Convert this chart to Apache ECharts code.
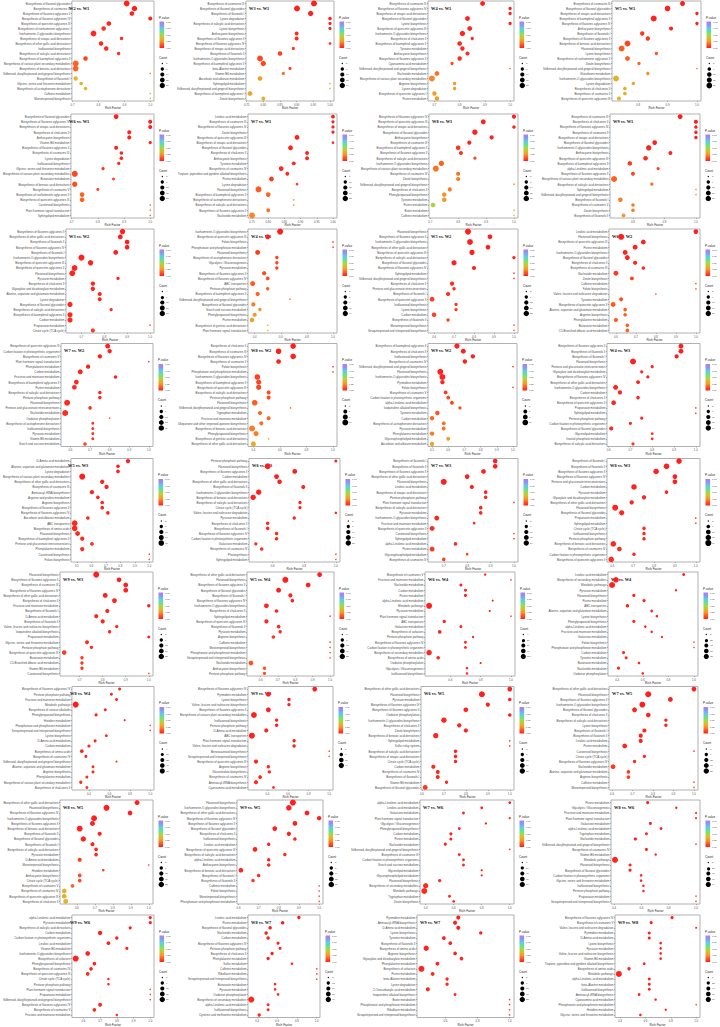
<!DOCTYPE html>
<html><head><meta charset="utf-8">
<script src="https://cdn.jsdelivr.net/npm/echarts@6/dist/echarts.min.js"></script>
<style>html,body{margin:0;padding:0;background:#fff}#c{width:720px;height:1027px}</style>
</head><body><div id="c"></div>
<script>
// ---------- DATA: [pathway, rich factor, count, p-value] ----------
const W2vsW1=[["Biosynthesis of flavonol glycosides",0.909,22,0.008],["Biosynthesis of coumarins III",0.939,19,0.006],["Biosynthesis of flavones aglycones II",0.929,13,0.01],["Biosynthesis of flavones aglycones IV",1.0,9,0.012],["Biosynthesis of quercetin aglycones III",0.84,13,0.015],["Biosynthesis of isorhamnetin aglycones I",0.82,12,0.04],["Isorhamnetin-O-glycosides biosynthesis",0.781,22,0.02],["Biosynthesis of sinapic acid derivatives",0.889,6,0.02],["Biosynthesis of other gallic acid derivatives",0.81,12,0.025],["Isoflavonoid biosynthesis",0.83,12,0.03],["Biosynthesis of salicylic acid derivatives",0.878,6,0.03],["Biosynthesis of kaempferol aglycones II",0.75,12,0.08],["Biosynthesis of various plant secondary metabolites",0.712,24,0.15],["Biosynthesis of benzoic acid derivatives",0.712,22,0.15],["Stilbenoid, diarylheptanoid and gingerol biosynthesis",1.0,2,0.18],["Biosynthesis of flavonols I",0.712,11,0.36],["Glycine, serine and threonine metabolism",0.733,7,0.34],["Biosynthesis of acetophenone derivatives",0.75,7,0.36],["Caffeine metabolism",1.0,2,0.38],["Monoterpenoid biosynthesis",1.0,2,0.42]];
const W3vsW1=[["Biosynthesis of coumarins III",0.952,17,0.004],["Biosynthesis of flavonol glycosides",0.901,17,0.006],["Biosynthesis of flavonols I",0.942,13,0.008],["Lysine degradation",1.0,6,0.012],["Biosynthesis of salicylic acid derivatives",1.0,5,0.015],["Lysine biosynthesis",1.0,5,0.015],["Anthocyanin biosynthesis",0.90,7,0.02],["Biosynthesis of flavones aglycones II",0.90,7,0.02],["Biosynthesis of flavones aglycones IV",1.0,4,0.05],["Biosynthesis of sinapic acid derivatives",0.89,5,0.06],["Biosynthesis of flavonols II",0.85,10,0.08],["Isorhamnetin-O-glycosides biosynthesis",0.79,16,0.09],["Biosynthesis of kaempferol aglycones II",0.80,13,0.09],["beta-Alanine metabolism",0.88,5,0.1],["Vitamin B6 metabolism",0.86,5,0.18],["Ascorbate and aldarate metabolism",0.79,10,0.28],["Sphingolipid metabolism",1.0,3,0.29],["Stilbenoid, diarylheptanoid and gingerol biosynthesis",1.0,3,0.3],["Biosynthesis of kaempferol aglycones I",0.76,11,0.32],["Zeatin biosynthesis",0.80,7,0.33]];
const W4vsW1=[["Biosynthesis of coumarins III",0.891,13,0.005],["Biosynthesis of flavones aglycones IV",1.0,6,0.008],["Biosynthesis of sinapic acid derivatives",1.0,6,0.008],["Biosynthesis of flavonol glycosides",0.831,13,0.01],["Lysine biosynthesis",1.0,6,0.012],["Biosynthesis of quercetin aglycones III",0.84,13,0.015],["Isorhamnetin-O-glycosides biosynthesis",0.811,17,0.018],["Biosynthesis of chalcones II",0.85,6,0.02],["Biosynthesis of kaempferol aglycones II",0.80,12,0.022],["Tyrosine metabolism",0.811,11,0.025],["Anthocyanin biosynthesis",0.831,9,0.028],["Biosynthesis of flavones aglycones II",0.80,11,0.03],["Cyanoamino acid metabolism",0.77,6,0.1],["Stilbenoid, diarylheptanoid and gingerol biosynthesis",1.0,3,0.15],["Nucleotide metabolism",0.71,13,0.18],["Biosynthesis of various plant secondary metabolites",0.69,22,0.22],["Arginine biosynthesis",0.78,6,0.25],["Lysine degradation",0.78,6,0.25],["Biosynthesis of quercetin aglycones I",0.70,11,0.27],["Purine metabolism",0.71,11,0.27]];
const W5vsW1=[["Biosynthesis of coumarins III",0.951,13,0.004],["Biosynthesis of flavonol glycosides",0.90,17,0.006],["Biosynthesis of sinapic acid derivatives",1.0,6,0.008],["Biosynthesis of kaempferol aglycones II",0.853,20,0.01],["Biosynthesis of flavones aglycones IV",1.0,6,0.012],["Anthocyanin biosynthesis",0.912,9,0.015],["Biosynthesis of flavonols I",0.814,10,0.05],["Biosynthesis of flavones aglycones II",0.833,10,0.055],["Biosynthesis of benzoic acid derivatives",0.764,19,0.09],["Flavonoid biosynthesis",0.744,19,0.14],["Lysine biosynthesis",0.862,6,0.13],["Biosynthesis of isorhamnetin aglycones II",0.764,12,0.14],["Zeatin biosynthesis",0.803,6,0.16],["Stilbenoid, diarylheptanoid and gingerol biosynthesis",1.0,3,0.18],["Glutathione metabolism",0.833,6,0.24],["Isorhamnetin-O-glycosides biosynthesis",0.725,19,0.34],["Lysine degradation",0.784,6,0.3],["Biosynthesis of chalcones II",0.755,7,0.33],["Biosynthesis of coumarins II",0.755,7,0.33],["Biosynthesis of quercetin aglycones III",0.735,9,0.35]];
const W6vsW1=[["Biosynthesis of flavonol glycosides",0.87,12,0.004],["Biosynthesis of flavones aglycones IV",1.0,9,0.006],["Biosynthesis of sinapic acid derivatives",1.0,9,0.006],["Biosynthesis of chalcones II",0.92,9,0.008],["Anthocyanin biosynthesis",0.92,9,0.008],["Vitamin B6 metabolism",1.0,6,0.012],["Biosynthesis of flavones aglycones II",0.87,9,0.015],["Biosynthesis of coumarins III",0.89,7,0.018],["Lysine degradation",0.89,7,0.018],["Isoflavonoid biosynthesis",0.88,6,0.02],["Glycine, serine and threonine metabolism",0.82,6,0.05],["Biosynthesis of various plant secondary metabolites",0.712,21,0.09],["Butanoate metabolism",0.86,5,0.09],["Biosynthesis of benzoic acid derivatives",0.712,16,0.1],["Biosynthesis of coumarins V",0.80,5,0.1],["Biosynthesis of isorhamnetin aglycones II",0.74,12,0.15],["Biosynthesis of quercetin aglycones III",0.74,12,0.15],["Carotenoid biosynthesis",1.0,3,0.18],["Plant hormone signal transduction",1.0,3,0.18],["Sphingolipid metabolism",1.0,3,0.18]];
const W7vsW1=[["Linoleic acid metabolism",1.0,11,0.004],["Biosynthesis of coumarins III",1.0,9,0.006],["Biosynthesis of flavones aglycones IV",1.0,9,0.006],["Zeatin biosynthesis",1.0,9,0.006],["Biosynthesis of quercetin aglycones III",0.889,14,0.008],["Biosynthesis of sinapic acid derivatives",1.0,8,0.01],["Biosynthesis of flavonol glycosides",0.869,15,0.012],["Biosynthesis of chalcones II",0.92,11,0.015],["Anthocyanin biosynthesis",0.92,11,0.015],["Tyrosine metabolism",0.879,11,0.02],["Biosynthesis of coumarins IV",0.84,14,0.025],["Tropane, piperidine and pyridine alkaloid biosynthesis",0.859,11,0.03],["Purine metabolism",0.81,15,0.06],["Lysine degradation",0.889,8,0.08],["Flavonoid biosynthesis",0.77,21,0.14],["Biosynthesis of kaempferol aglycones II",0.80,14,0.16],["Biosynthesis of acetophenone derivatives",0.879,7,0.2],["Biosynthesis of salicylic acid derivatives",0.879,7,0.2],["Biosynthesis of flavones aglycones II",0.80,11,0.18],["Nucleotide metabolism",0.75,20,0.22]];
const W8vsW1=[["Biosynthesis of flavones aglycones IV",1.0,9,0.004],["Biosynthesis of quercetin aglycones III",0.89,13,0.006],["Biosynthesis of sinapic acid derivatives",1.0,6,0.008],["Biosynthesis of flavonol glycosides",0.86,17,0.01],["Anthocyanin biosynthesis",0.92,9,0.012],["Biosynthesis of coumarins III",0.84,9,0.015],["Biosynthesis of kaempferol aglycones II",0.80,12,0.05],["Biosynthesis of flavones aglycones II",0.81,9,0.05],["Biosynthesis of salicylic acid derivatives",0.86,5,0.1],["Isorhamnetin-O-glycosides biosynthesis",0.74,16,0.15],["Biosynthesis of various plant secondary metabolites",0.72,22,0.18],["Biosynthesis of coumarins IV",0.80,9,0.18],["Zeatin biosynthesis",0.80,9,0.2],["Stilbenoid, diarylheptanoid and gingerol biosynthesis",1.0,2,0.2],["Biosynthesis of chalcones II",0.77,9,0.2],["Phenylpropanoid biosynthesis",0.75,11,0.25],["Tyrosine metabolism",0.75,11,0.25],["Purine metabolism",0.71,12,0.45],["Biotin metabolism",1.0,2,0.35],["Caffeine metabolism",1.0,2,0.42]];
const W9vsW1=[["Biosynthesis of coumarins III",0.95,14,0.004],["Biosynthesis of chalcones II",1.0,10,0.006],["Biosynthesis of flavones aglycones IV",1.0,7,0.008],["Biosynthesis of coumarins II",1.0,7,0.008],["Biosynthesis of sinapic acid derivatives",1.0,7,0.008],["Biosynthesis of flavonol glycosides",0.869,13,0.01],["Isorhamnetin-O-glycosides biosynthesis",0.85,18,0.012],["Anthocyanin biosynthesis",0.919,9,0.015],["Biosynthesis of quercetin aglycones III",0.84,12,0.02],["Biosynthesis of kaempferol aglycones II",0.79,12,0.06],["alpha-Linolenic acid metabolism",0.88,6,0.08],["Biosynthesis of flavones aglycones II",0.80,9,0.09],["Biosynthesis of various plant secondary metabolites",0.74,23,0.15],["Biosynthesis of salicylic acid derivatives",0.86,6,0.17],["Sphingolipid metabolism",1.0,3,0.22],["Stilbenoid, diarylheptanoid and gingerol biosynthesis",1.0,3,0.22],["Biosynthesis of flavonols I",0.76,12,0.2],["Biosynthesis of coumarins V",0.80,7,0.2],["Zeatin biosynthesis",0.80,7,0.2],["Biosynthesis of flavonols II",0.77,9,0.25]];
const W3vsW2=[["Biosynthesis of flavones aglycones II",0.88,13,0.002],["Biosynthesis of other gallic acid derivatives",0.87,11,0.003],["Biosynthesis of flavonols II",0.90,10,0.004],["Biosynthesis of flavones aglycones IV",0.90,10,0.004],["Biosynthesis of flavonols I",0.85,10,0.005],["Isorhamnetin-O-glycosides biosynthesis",0.70,16,0.006],["Biosynthesis of quercetin aglycones III",0.74,13,0.007],["Biosynthesis of quercetin aglycones II",0.67,15,0.008],["Flavonoid biosynthesis",0.66,15,0.01],["Pyruvate metabolism",0.86,6,0.012],["Biosynthesis of chalcones II",0.75,9,0.015],["Glyoxylate and dicarboxylate metabolism",0.75,9,0.015],["Alanine, aspartate and glutamate metabolism",0.78,8,0.018],["Lysine degradation",0.78,8,0.018],["Biosynthesis of flavonol glycosides",0.65,12,0.02],["Biosynthesis of salicylic acid derivatives",0.83,6,0.022],["Biosynthesis of kaempferol aglycones II",0.65,12,0.025],["Carbon metabolism",0.65,12,0.025],["Propanoate metabolism",1.0,4,0.1],["Citrate cycle (TCA cycle)",0.75,8,0.06]];
const W4vsW2=[["Isorhamnetin-O-glycosides biosynthesis",0.595,13,0.004],["Biosynthesis of quercetin aglycones III",0.50,8,0.01],["Folate biosynthesis",1.0,2,0.015],["Phosphonate and phosphinate metabolism",1.0,2,0.015],["Flavonoid biosynthesis",0.423,8,0.06],["Biosynthesis of acetophenone derivatives",0.57,4,0.09],["Glycolysis / Gluconeogenesis",0.57,4,0.09],["Pyruvate metabolism",0.57,4,0.09],["Biosynthesis of flavones aglycones II",0.473,6,0.1],["Biosynthesis of flavones aglycones IV",0.50,5,0.1],["ABC transporters",0.385,9,0.14],["Pentose phosphate pathway",0.50,4,0.14],["Biosynthesis of kaempferol aglycones II",0.423,6,0.15],["Stilbenoid, diarylheptanoid and gingerol biosynthesis",0.67,2,0.17],["Biosynthesis of flavonol glycosides",0.39,6,0.2],["Starch and sucrose metabolism",0.44,4,0.24],["Phenylpropanoid biosynthesis",0.40,6,0.26],["Purine metabolism",0.38,7,0.3],["Biosynthesis of gentisic acid derivatives",0.50,2,0.38],["Plant hormone signal transduction",0.50,2,0.4]];
const W5vsW2=[["Flavonoid biosynthesis",0.77,19,0.002],["Biosynthesis of flavones aglycones II",0.88,11,0.003],["Isorhamnetin-O-glycosides biosynthesis",0.78,18,0.003],["Biosynthesis of other gallic acid derivatives",0.87,11,0.004],["Biosynthesis of quercetin aglycones III",0.79,14,0.005],["Biosynthesis of salicylic acid derivatives",1.0,5,0.006],["Biosynthesis of flavonol glycosides",0.70,14,0.008],["Biosynthesis of flavones aglycones IV",0.80,8,0.01],["Sphingolipid metabolism",1.0,2,0.015],["Stilbenoid, diarylheptanoid and gingerol biosynthesis",1.0,2,0.015],["Biosynthesis of chalcones II",0.69,8,0.02],["Pentose and glucuronate interconversions",0.70,5,0.025],["Biosynthesis of flavonols I",0.67,8,0.03],["Biosynthesis of quercetin aglycones II",0.59,11,0.06],["Isoflavonoid biosynthesis",0.71,5,0.06],["Lysine biosynthesis",0.71,5,0.06],["Carbon metabolism",0.60,10,0.08],["Biosynthesis of flavonols II",0.67,5,0.08],["Monoterpenoid biosynthesis",1.0,2,0.1],["Sesquiterpenoid and triterpenoid biosynthesis",1.0,2,0.1]];
const W6vsW2=[["Linoleic acid metabolism",1.0,9,0.002],["Flavonoid biosynthesis",0.626,16,0.004],["Biosynthesis of quercetin aglycones III",0.737,10,0.006],["Purine metabolism",0.696,10,0.008],["Isorhamnetin-O-glycosides biosynthesis",0.646,10,0.01],["Biosynthesis of flavonol glycosides",0.657,10,0.012],["Biosynthesis of chalcones II",0.696,7,0.02],["Biosynthesis of coumarins III",0.737,5,0.03],["Nucleotide metabolism",0.60,10,0.06],["Zeatin biosynthesis",0.68,6,0.08],["Caffeine metabolism",1.0,2,0.1],["Folate biosynthesis",1.0,2,0.1],["Valine, leucine and isoleucine degradation",0.80,2,0.1],["Tyrosine metabolism",0.626,6,0.1],["Biosynthesis of quercetin aglycones II",0.586,10,0.13],["Alanine, aspartate and glutamate metabolism",0.646,5,0.14],["Arginine biosynthesis",0.646,5,0.14],["Phenylalanine metabolism",0.60,7,0.14],["Butanoate metabolism",0.657,5,0.14],["C5-Branched dibasic acid metabolism",0.657,5,0.14]];
const W7vsW2=[["Biosynthesis of quercetin aglycones III",0.79,10,0.002],["Carbon fixation in photosynthetic organisms",0.80,8,0.004],["Biosynthesis of coumarins V",0.75,8,0.006],["Plant hormone signal transduction",1.0,4,0.008],["Phenylalanine metabolism",0.69,8,0.01],["Carbon metabolism",0.65,10,0.012],["Fructose and mannose metabolism",0.83,6,0.015],["Biosynthesis of kaempferol aglycones II",0.63,9,0.018],["Purine metabolism",0.62,9,0.02],["Biosynthesis of salicylic acid derivatives",0.75,6,0.022],["Pentose phosphate pathway",0.75,6,0.022],["Flavonoid biosynthesis",0.583,14,0.025],["Pentose and glucuronate interconversions",0.70,6,0.03],["Nucleotide metabolism",0.573,14,0.03],["Oxidative phosphorylation",0.80,4,0.1],["Biosynthesis of acetophenone derivatives",0.714,5,0.04],["Isoflavonoid biosynthesis",0.714,5,0.04],["Pyruvate metabolism",0.714,5,0.04],["Vitamin B6 metabolism",0.714,5,0.04],["Starch and sucrose metabolism",0.674,6,0.08]];
const W8vsW2=[["Biosynthesis of chalcones II",0.70,7,0.003],["Biosynthesis of coumarins III",0.59,7,0.005],["Biosynthesis of flavones aglycones IV",0.70,7,0.005],["Biosynthesis of coumarins II",0.59,5,0.01],["Folate biosynthesis",1.0,2,0.015],["Phosphonate and phosphinate metabolism",1.0,2,0.015],["Isorhamnetin-O-glycosides biosynthesis",0.43,7,0.08],["Biosynthesis of kaempferol aglycones II",0.44,6,0.08],["Biosynthesis of quercetin aglycones III",0.44,6,0.08],["Biosynthesis of salicylic acid derivatives",0.515,4,0.1],["Pentose phosphate pathway",0.515,4,0.1],["Flavonoid biosynthesis",0.41,7,0.14],["Stilbenoid, diarylheptanoid and gingerol biosynthesis",0.68,2,0.14],["Tryptophan metabolism",0.45,4,0.16],["Fructose and mannose metabolism",0.515,4,0.16],["Ubiquinone and other terpenoid-quinone biosynthesis",0.46,4,0.17],["Biosynthesis of benzoic acid derivatives",0.39,8,0.2],["Phenylpropanoid biosynthesis",0.42,6,0.2],["Biosynthesis of gentisic acid derivatives",0.515,2,0.25],["Biosynthesis of other gallic acid derivatives",0.40,6,0.33]];
const W9vsW2=[["Biosynthesis of kaempferol aglycones II",0.654,7,0.002],["Biosynthesis of chalcones II",0.693,6,0.004],["Isoflavonoid biosynthesis",0.752,5,0.006],["Biosynthesis of coumarins IV",0.703,5,0.008],["Stilbenoid, diarylheptanoid and gingerol biosynthesis",1.0,2,0.01],["Flavonoid biosynthesis",0.551,9,0.012],["Isorhamnetin-O-glycosides biosynthesis",0.564,9,0.015],["Pyrimidine metabolism",0.564,5,0.018],["Folate biosynthesis",1.0,2,0.02],["Biosynthesis of coumarins V",0.584,4,0.06],["Carbon fixation in photosynthetic organisms",0.60,4,0.09],["alpha-Linolenic acid metabolism",0.623,4,0.09],["Isoquinoline alkaloid biosynthesis",0.672,3,0.09],["Tyrosine metabolism",0.533,5,0.12],["Carbon metabolism",0.50,5,0.16],["Biosynthesis of acetophenone derivatives",0.572,4,0.18],["Pyruvate metabolism",0.572,4,0.18],["Phenylalanine metabolism",0.50,5,0.2],["Glycerophospholipid metabolism",0.60,4,0.28],["Ascorbate and aldarate metabolism",0.50,5,0.3]];
const W4vsW3=[["Biosynthesis of flavones aglycones II",0.932,11,0.002],["Biosynthesis of flavonols II",0.932,11,0.002],["Biosynthesis of flavonols I",0.912,8,0.003],["Flavonoid biosynthesis",0.712,17,0.004],["Pentose and glucuronate interconversions",0.80,5,0.006],["Glyoxylate and dicarboxylate metabolism",0.752,5,0.008],["Biosynthesis of flavones aglycones IV",0.78,5,0.008],["Biosynthesis of other gallic acid derivatives",0.735,7,0.01],["Isorhamnetin-O-glycosides biosynthesis",0.632,11,0.012],["Carbon metabolism",0.652,8,0.014],["Biosynthesis of chalcones II",0.735,6,0.015],["Biosynthesis of quercetin aglycones II",0.623,10,0.016],["Propanoate metabolism",1.0,3,0.018],["Sphingolipid metabolism",1.0,3,0.018],["Pentose phosphate pathway",0.752,5,0.02],["Carbon fixation in photosynthetic organisms",0.70,5,0.022],["Biosynthesis of flavonol glycosides",0.612,8,0.025],["Glycerolipid metabolism",0.80,4,0.03],["Inositol phosphate metabolism",0.80,4,0.03],["Biosynthesis of salicylic acid derivatives",0.712,5,0.06]];
const W5vsW3=[["D-Amino acid metabolism",0.853,7,0.002],["Alanine, aspartate and glutamate metabolism",0.784,5,0.004],["Lysine degradation",0.784,5,0.004],["Biosynthesis of various plant secondary metabolites",0.537,15,0.005],["Biosynthesis of other gallic acid derivatives",0.675,7,0.007],["Biosynthesis of coumarins III",0.705,7,0.008],["Aminoacyl-tRNA biosynthesis",0.604,7,0.01],["Arginine and proline metabolism",0.645,5,0.012],["Arginine biosynthesis",0.675,5,0.013],["Biosynthesis of flavones aglycones II",0.675,5,0.013],["Biosynthesis of flavones aglycones IV",0.714,5,0.014],["Ascorbate and aldarate metabolism",0.576,5,0.016],["ABC transporters",0.485,13,0.018],["Biosynthesis of amino acids",0.485,13,0.018],["Flavonoid biosynthesis",0.505,9,0.02],["Biosynthesis of kaempferol aglycones II",0.537,7,0.025],["Pentose and glucuronate interconversions",0.604,5,0.03],["Phenylalanine metabolism",0.537,7,0.035],["Carotenoid biosynthesis",1.0,2,0.1],["Folate biosynthesis",1.0,2,0.1]];
const W6vsW3=[["Pentose phosphate pathway",1.0,5,0.002],["Flavonoid biosynthesis",0.569,22,0.003],["Biosynthesis of flavones aglycones II",0.74,13,0.004],["Carbon metabolism",0.625,13,0.005],["Biosynthesis of other gallic acid derivatives",0.644,12,0.006],["Biosynthesis of flavonols II",0.794,9,0.007],["Isorhamnetin-O-glycosides biosynthesis",0.512,17,0.008],["Biosynthesis of benzoic acid derivatives",0.477,17,0.01],["Biosynthesis of salicylic acid derivatives",0.773,6,0.012],["Citrate cycle (TCA cycle)",0.773,6,0.012],["Valine, leucine and isoleucine degradation",1.0,4,0.014],["Pyruvate metabolism",0.737,6,0.016],["Biosynthesis of chalcones II",0.569,7,0.02],["Biosynthesis of flavonols I",0.569,7,0.02],["Biosynthesis of flavones aglycones IV",0.625,7,0.022],["Carbon fixation in photosynthetic organisms",0.625,7,0.022],["Galactose metabolism",0.494,6,0.025],["Biosynthesis of coumarins IV",0.531,7,0.03],["Photosynthesis",1.0,3,0.08],["Sphingolipid metabolism",1.0,3,0.08]];
const W7vsW3=[["Biosynthesis of flavonols I",0.92,10,0.002],["Biosynthesis of flavonols II",0.92,10,0.002],["Biosynthesis of flavones aglycones II",0.87,10,0.003],["Biosynthesis of other gallic acid derivatives",0.80,10,0.005],["Flavonoid biosynthesis",0.70,17,0.006],["Linoleic acid metabolism",0.82,8,0.008],["Biosynthesis of sinapic acid derivatives",0.879,6,0.01],["Pentose phosphate pathway",0.879,6,0.01],["Plant hormone signal transduction",1.0,3,0.012],["Biosynthesis of salicylic acid derivatives",0.858,6,0.014],["Pyruvate metabolism",0.858,6,0.014],["Isorhamnetin-O-glycosides biosynthesis",0.67,11,0.016],["Fructose and mannose metabolism",0.83,4,0.02],["Biosynthesis of quercetin aglycones II",0.65,11,0.022],["Carotenoid biosynthesis",1.0,3,0.025],["Sphingolipid metabolism",1.0,3,0.025],["alpha-Linolenic acid metabolism",0.75,6,0.03],["Purine metabolism",0.65,11,0.05],["Glycerophospholipid metabolism",0.80,4,0.08],["Biosynthesis of coumarins III",0.70,6,0.08]];
const W8vsW3=[["Biosynthesis of flavonols I",0.92,11,0.002],["Biosynthesis of flavonols II",0.86,11,0.003],["Biosynthesis of flavones aglycones II",0.81,11,0.004],["Biosynthesis of flavones aglycones IV",0.90,8,0.005],["Pentose and glucuronate interconversions",0.90,8,0.005],["Carbon metabolism",0.704,11,0.006],["Pyruvate metabolism",0.86,5,0.008],["Glyoxylate and dicarboxylate metabolism",0.752,7,0.01],["Biosynthesis of other gallic acid derivatives",0.693,7,0.012],["Flavonoid biosynthesis",0.614,13,0.013],["Biosynthesis of flavonol glycosides",0.645,10,0.015],["Propanoate metabolism",1.0,3,0.017],["Sphingolipid metabolism",1.0,3,0.017],["Citrate cycle (TCA cycle)",0.752,5,0.02],["Isoflavonoid biosynthesis",0.752,5,0.02],["Pentose phosphate pathway",0.752,5,0.02],["Biosynthesis of benzoic acid derivatives",0.605,11,0.022],["Biosynthesis of coumarins IV",0.634,8,0.025],["Carbon fixation in photosynthetic organisms",0.704,5,0.028],["Biosynthesis of quercetin aglycones II",0.595,11,0.03]];
const W9vsW3=[["Flavonoid biosynthesis",0.772,19,0.002],["Biosynthesis of flavones aglycones II",0.871,11,0.003],["Biosynthesis of coumarins III",0.90,11,0.004],["Biosynthesis of flavones aglycones IV",0.90,11,0.004],["Biosynthesis of other gallic acid derivatives",0.811,11,0.005],["Biosynthesis of chalcones II",0.851,11,0.006],["Fructose and mannose metabolism",1.0,5,0.008],["Biosynthesis of flavonols I",0.82,8,0.01],["D-Amino acid metabolism",0.772,8,0.012],["Biosynthesis of flavonols II",0.80,8,0.014],["Valine, leucine and isoleucine biosynthesis",0.861,5,0.016],["Isoquinoline alkaloid biosynthesis",0.83,5,0.018],["Propanoate metabolism",1.0,4,0.02],["Glycine, serine and threonine metabolism",0.732,7,0.022],["Pentose phosphate pathway",0.751,5,0.025],["Biosynthesis of quercetin aglycones III",0.633,10,0.07],["Butanoate metabolism",0.71,5,0.06],["C5-Branched dibasic acid metabolism",0.71,5,0.06],["Vitamin B6 metabolism",0.71,5,0.06],["Carotenoid biosynthesis",1.0,2,0.08]];
const W5vsW4=[["Biosynthesis of other gallic acid derivatives",0.94,11,0.002],["Flavonoid biosynthesis",0.743,19,0.003],["Biosynthesis of flavones aglycones II",0.874,11,0.004],["Biosynthesis of flavonol glycosides",0.704,12,0.005],["Biosynthesis of flavonols I",0.772,8,0.006],["Biosynthesis of flavones aglycones IV",0.783,6,0.008],["Isorhamnetin-O-glycosides biosynthesis",0.634,11,0.01],["Biosynthesis of chalcones II",0.692,6,0.012],["Sphingolipid metabolism",1.0,2,0.014],["Biosynthesis of quercetin aglycones III",0.634,8,0.016],["Biosynthesis of flavonols II",0.704,6,0.018],["Pyruvate metabolism",0.713,5,0.02],["Arginine biosynthesis",0.674,6,0.06],["Caffeine metabolism",1.0,2,0.08],["Monoterpenoid biosynthesis",1.0,2,0.08],["Phosphonate and phosphinate metabolism",1.0,2,0.08],["Sesquiterpenoid and triterpenoid biosynthesis",1.0,2,0.08],["Nucleotide metabolism",0.545,11,0.12],["Anthocyanin biosynthesis",0.623,5,0.12],["Pentose phosphate pathway",0.623,5,0.12]];
const W6vsW4=[["Biosynthesis of coumarins V",0.83,8,0.002],["Fructose and mannose metabolism",1.0,4,0.003],["Nucleotide metabolism",0.67,16,0.004],["Carbon metabolism",0.70,16,0.005],["Purine metabolism",0.70,16,0.005],["alpha-Linolenic acid metabolism",0.88,6,0.006],["Metabolic pathways",0.46,104,0.007],["Pyruvate metabolism",0.86,6,0.008],["Plant hormone signal transduction",1.0,4,0.01],["ABC transporters",0.56,22,0.012],["Galactose metabolism",0.67,15,0.014],["Biosynthesis of cofactors",0.53,28,0.016],["Pentose phosphate pathway",0.75,8,0.018],["Biosynthesis of flavones aglycones IV",0.70,13,0.02],["Carbon fixation in photosynthetic organisms",0.70,13,0.02],["Biosynthesis of secondary metabolites",0.46,82,0.022],["Biosynthesis of amino acids",0.52,26,0.025],["Oxidative phosphorylation",0.80,6,0.028],["Glycolysis / Gluconeogenesis",0.71,9,0.03],["Isoflavonoid biosynthesis",0.71,9,0.03]];
const W7vsW4=[["Linoleic acid metabolism",0.92,10,0.002],["Biosynthesis of secondary metabolites",0.39,68,0.003],["Metabolic pathways",0.36,82,0.004],["Pyruvate metabolism",0.86,5,0.005],["Flavonoid biosynthesis",0.53,14,0.006],["Purine metabolism",0.61,14,0.007],["ABC transporters",0.48,18,0.008],["Alanine, aspartate and glutamate metabolism",0.67,8,0.01],["Lysine biosynthesis",0.71,6,0.012],["Phenylpropanoid biosynthesis",0.53,13,0.014],["alpha-Linolenic acid metabolism",0.62,7,0.016],["Fructose and mannose metabolism",0.67,6,0.018],["Galactose metabolism",0.75,5,0.02],["Folate biosynthesis",1.0,2,0.07],["Phosphonate and phosphinate metabolism",1.0,2,0.07],["Carbon metabolism",0.45,13,0.025],["Tyrosine metabolism",0.47,12,0.028],["Butanoate metabolism",0.57,7,0.03],["Nucleotide metabolism",0.41,14,0.035],["Oxidative phosphorylation",0.60,7,0.04]];
const W8vsW4=[["Biosynthesis of flavones aglycones IV",0.70,10,0.002],["Pentose phosphate pathway",0.62,10,0.003],["Fructose and mannose metabolism",0.67,10,0.004],["Metabolic pathways",0.27,62,0.005],["Biosynthesis of various alkaloids",0.56,10,0.006],["Phenylpropanoid biosynthesis",0.47,12,0.008],["Histidine metabolism",0.75,5,0.01],["Phosphonate and phosphinate metabolism",1.0,4,0.06],["Sesquiterpenoid and triterpenoid biosynthesis",1.0,4,0.06],["Lysine biosynthesis",0.57,9,0.014],["D-Amino acid metabolism",0.46,11,0.016],["Carbon metabolism",0.40,12,0.018],["Biosynthesis of amino acids",0.33,18,0.02],["Biosynthesis of coumarins IV",0.37,11,0.022],["Stilbenoid, diarylheptanoid and gingerol biosynthesis",0.67,5,0.025],["Alanine, aspartate and glutamate metabolism",0.44,10,0.028],["Arginine biosynthesis",0.44,10,0.028],["Phenylalanine metabolism",0.38,11,0.03],["Biosynthesis of various plant secondary metabolites",0.32,13,0.035],["Biosynthesis of chalcones II",0.38,10,0.04]];
const W9vsW4=[["Biosynthesis of flavones aglycones IV",0.86,8,0.002],["Pyrimidine metabolism",0.41,8,0.003],["Lysine biosynthesis",0.61,4,0.004],["Valine, leucine and isoleucine biosynthesis",0.61,4,0.004],["Biosynthesis of flavones aglycones II",0.41,8,0.006],["Biosynthesis of various plant secondary metabolites",0.27,12,0.007],["Isoflavonoid biosynthesis",0.49,4,0.008],["Pentose phosphate pathway",0.49,4,0.008],["D-Amino acid metabolism",0.39,6,0.01],["ABC transporters",0.25,13,0.012],["Plant hormone signal transduction",0.66,4,0.014],["Valine, leucine and isoleucine degradation",0.66,4,0.014],["Benzoxazinoid biosynthesis",1.0,2,0.08],["Sesquiterpenoid and triterpenoid biosynthesis",1.0,2,0.08],["Biosynthesis of quercetin aglycones III",0.29,6,0.018],["Arginine biosynthesis",0.41,4,0.02],["Glucosinolate biosynthesis",0.42,4,0.022],["Biosynthesis of coumarins IV",0.33,5,0.025],["Aminoacyl-tRNA biosynthesis",0.29,6,0.028],["Cyanoamino acid metabolism",0.46,3,0.03]];
const W6vsW5=[["Biosynthesis of other gallic acid derivatives",1.0,13,0.002],["Flavonoid biosynthesis",0.873,22,0.003],["Pyruvate metabolism",1.0,7,0.004],["Biosynthesis of flavones aglycones IV",0.90,10,0.005],["Biosynthesis of flavones aglycones II",0.80,13,0.006],["Oxidative phosphorylation",1.0,7,0.007],["Isorhamnetin-O-glycosides biosynthesis",0.70,17,0.008],["Biosynthesis of chalcones II",0.77,10,0.01],["Zeatin biosynthesis",0.80,10,0.01],["Biosynthesis of benzoic acid derivatives",0.663,17,0.012],["Sphingolipid metabolism",1.0,3,0.014],["Sulfur relay system",1.0,3,0.014],["Biosynthesis of salicylic acid derivatives",0.753,7,0.016],["Biosynthesis of sinapic acid derivatives",0.753,7,0.016],["Citrate cycle (TCA cycle)",0.753,7,0.016],["Carbon metabolism",0.652,10,0.02],["Biosynthesis of coumarins IV",0.672,9,0.022],["Biosynthesis of flavonols I",0.672,9,0.022],["Vitamin B6 metabolism",0.712,6,0.025],["Biosynthesis of flavonol glycosides",0.615,13,0.06]];
const W7vsW5=[["Biosynthesis of other gallic acid derivatives",1.0,11,0.002],["Flavonoid biosynthesis",0.777,19,0.003],["Biosynthesis of flavones aglycones II",0.885,11,0.004],["Isorhamnetin-O-glycosides biosynthesis",0.748,18,0.005],["Biosynthesis of flavonol glycosides",0.71,12,0.006],["Biosynthesis of chalcones II",0.777,10,0.007],["Biosynthesis of salicylic acid derivatives",0.863,5,0.008],["Lysine biosynthesis",0.863,5,0.008],["Biosynthesis of flavonols I",0.758,8,0.01],["Biosynthesis of flavonols II",0.74,8,0.012],["Linoleic acid metabolism",0.74,8,0.012],["Purine metabolism",0.662,11,0.014],["Carotenoid biosynthesis",1.0,2,0.016],["Citrate cycle (TCA cycle)",0.758,5,0.018],["Biosynthesis of flavones aglycones IV",0.71,5,0.02],["Nucleotide metabolism",0.605,11,0.06],["Alanine, aspartate and glutamate metabolism",0.68,6,0.07],["Arginine biosynthesis",0.68,6,0.07],["Caffeine metabolism",1.0,2,0.08],["Monoterpenoid biosynthesis",1.0,2,0.08]];
const W8vsW5=[["Biosynthesis of other gallic acid derivatives",0.935,12,0.002],["Flavonoid biosynthesis",0.765,19,0.003],["Biosynthesis of flavones aglycones IV",0.896,11,0.004],["Isorhamnetin-O-glycosides biosynthesis",0.696,18,0.005],["Biosynthesis of flavones aglycones II",0.687,12,0.006],["Biosynthesis of benzoic acid derivatives",0.616,18,0.008],["Biosynthesis of flavonols II",0.727,8,0.01],["Biosynthesis of flavonol glycosides",0.636,15,0.012],["Biosynthesis of flavonols I",0.687,8,0.014],["Biosynthesis of salicylic acid derivatives",0.707,6,0.016],["Pyruvate metabolism",0.707,6,0.016],["D-Amino acid metabolism",0.616,8,0.07],["Monoterpenoid biosynthesis",1.0,2,0.07],["Histidine metabolism",0.747,3,0.08],["Anthocyanin biosynthesis",0.616,6,0.1],["Citrate cycle (TCA cycle)",0.616,6,0.1],["Biosynthesis of coumarins V",0.576,6,0.15],["Biosynthesis of coumarins IV",0.53,11,0.35],["Biosynthesis of quercetin aglycones III",0.53,11,0.35],["Biosynthesis of chalcones II",0.538,11,0.36]];
const W9vsW5=[["Flavonoid biosynthesis",0.87,22,0.002],["Isorhamnetin-O-glycosides biosynthesis",0.85,18,0.003],["Biosynthesis of other gallic acid derivatives",0.94,13,0.004],["Biosynthesis of flavones aglycones IV",1.0,10,0.005],["Biosynthesis of flavones aglycones II",0.88,12,0.006],["Biosynthesis of flavonol glycosides",0.78,12,0.008],["Biosynthesis of chalcones II",0.85,10,0.01],["Isoflavonoid biosynthesis",0.88,6,0.012],["Linoleic acid metabolism",0.75,6,0.014],["Biosynthesis of quercetin aglycones III",0.682,12,0.016],["Biosynthesis of salicylic acid derivatives",0.83,6,0.018],["alpha-Linolenic acid metabolism",0.75,6,0.02],["Anthocyanin biosynthesis",0.75,6,0.02],["Biosynthesis of benzoic acid derivatives",0.612,12,0.022],["Biosynthesis of flavonols I",0.70,6,0.025],["Biosynthesis of flavonols II",0.672,6,0.05],["Caffeine metabolism",1.0,2,0.08],["Folate biosynthesis",1.0,2,0.08],["Monoterpenoid biosynthesis",1.0,2,0.08],["Phosphonate and phosphinate metabolism",1.0,2,0.08]];
const W7vsW6=[["alpha-Linolenic acid metabolism",1.0,10,0.002],["Linoleic acid metabolism",0.80,10,0.003],["Galactose metabolism",0.67,10,0.004],["Plant hormone signal transduction",1.0,4,0.005],["Glycolysis / Gluconeogenesis",0.83,6,0.006],["Phenylpropanoid biosynthesis",0.64,11,0.007],["Carbon metabolism",0.58,14,0.008],["Purine metabolism",0.58,14,0.008],["Nucleotide metabolism",0.54,14,0.01],["Stilbenoid, diarylheptanoid and gingerol biosynthesis",1.0,3,0.012],["Biosynthesis of coumarins III",0.64,11,0.014],["Carbon fixation in photosynthetic organisms",0.67,10,0.016],["Starch and sucrose metabolism",0.67,10,0.016],["Glycerolipid metabolism",0.80,5,0.018],["Glycerophospholipid metabolism",0.80,5,0.018],["Flavonoid biosynthesis",0.50,16,0.02],["Biosynthesis of secondary metabolites",0.40,62,0.022],["Metabolic pathways",0.39,85,0.025],["Tryptophan metabolism",0.57,12,0.03],["Zeatin biosynthesis",0.60,10,0.035]];
const W8vsW6=[["Purine metabolism",0.646,14,0.002],["Glycolysis / Gluconeogenesis",0.856,6,0.003],["Fructose and mannose metabolism",1.0,3,0.004],["Plant hormone signal transduction",1.0,3,0.004],["Galactose metabolism",0.666,12,0.005],["alpha-Linolenic acid metabolism",0.744,11,0.006],["Tryptophan metabolism",0.637,12,0.007],["Nucleotide metabolism",0.556,15,0.008],["Stilbenoid, diarylheptanoid and gingerol biosynthesis",1.0,2,0.01],["Biosynthesis of coumarins IV",0.637,12,0.012],["Vitamin B6 metabolism",0.705,6,0.014],["Metabolic pathways",0.407,94,0.016],["Flavonoid biosynthesis",0.517,14,0.018],["Biosynthesis of flavonol glycosides",0.517,14,0.018],["Carbon fixation in photosynthetic organisms",0.598,8,0.02],["Glycine, serine and threonine metabolism",0.598,8,0.02],["Isoflavonoid biosynthesis",0.615,7,0.022],["Pentose phosphate pathway",0.615,7,0.022],["Propanoate metabolism",1.0,2,0.06],["Sesquiterpenoid and triterpenoid biosynthesis",1.0,2,0.06]];
const W9vsW6=[["alpha-Linolenic acid metabolism",1.0,6,0.002],["Pyruvate metabolism",1.0,6,0.002],["Biosynthesis of salicylic acid derivatives",0.88,6,0.004],["Carbon metabolism",0.70,12,0.005],["Carbon fixation in photosynthetic organisms",0.80,7,0.006],["Linoleic acid metabolism",0.75,8,0.007],["Vitamin B6 metabolism",0.86,6,0.008],["Isorhamnetin-O-glycosides biosynthesis",0.626,13,0.01],["Biosynthesis of cofactors",0.554,24,0.012],["Phenylpropanoid biosynthesis",0.666,8,0.014],["Biosynthesis of coumarins IV",0.646,8,0.016],["Biosynthesis of quercetin aglycones III",0.626,8,0.018],["Citrate cycle (TCA cycle)",0.75,4,0.02],["Pentose phosphate pathway",0.75,4,0.02],["Plant hormone signal transduction",1.0,3,0.06],["Propanoate metabolism",1.0,3,0.06],["Stilbenoid, diarylheptanoid and gingerol biosynthesis",1.0,3,0.06],["Biosynthesis of flavones aglycones IV",0.70,9,0.025],["Biosynthesis of coumarins V",0.666,8,0.03],["Fructose and mannose metabolism",0.80,4,0.035]];
const W8vsW7=[["Linoleic acid metabolism",0.82,9,0.002],["Purine metabolism",0.656,10,0.003],["Biosynthesis of flavonol glycosides",0.53,10,0.004],["Nucleotide metabolism",0.49,10,0.005],["Carbon metabolism",0.51,10,0.006],["Biosynthesis of flavones aglycones IV",0.61,7,0.007],["Pentose phosphate pathway",0.63,7,0.008],["Biosynthesis of chalcones II",0.55,9,0.01],["Phenylalanine metabolism",0.51,9,0.012],["Sulfur metabolism",0.75,4,0.014],["Caffeine metabolism",1.0,2,0.016],["Riboflavin metabolism",1.0,2,0.016],["Sesquiterpenoid and triterpenoid biosynthesis",1.0,2,0.016],["Butanoate metabolism",0.58,5,0.018],["Pyruvate metabolism",0.58,5,0.018],["Oxidative phosphorylation",0.61,5,0.02],["Biosynthesis of secondary metabolites",0.34,42,0.022],["alpha-Linolenic acid metabolism",0.51,6,0.025],["Isoflavonoid biosynthesis",0.51,6,0.025],["Cysteine and methionine metabolism",0.42,9,0.03]];
const W9vsW7=[["Pyrimidine metabolism",0.68,8,0.002],["Aminoacyl-tRNA biosynthesis",0.66,8,0.003],["D-Amino acid metabolism",0.68,8,0.004],["Lysine biosynthesis",0.82,5,0.005],["Tyrosine metabolism",0.59,7,0.006],["Biosynthesis of flavonols II",0.63,6,0.007],["Biosynthesis of amino acids",0.48,15,0.008],["Arginine biosynthesis",0.66,6,0.01],["Glyoxylate and dicarboxylate metabolism",0.70,6,0.012],["Phenylalanine metabolism",0.55,7,0.014],["Biosynthesis of cofactors",0.45,20,0.016],["Purine metabolism",0.52,7,0.018],["beta-Alanine metabolism",0.61,5,0.02],["Lysine degradation",0.61,5,0.02],["2-Oxocarboxylic acid metabolism",0.49,8,0.022],["Isoquinoline alkaloid biosynthesis",0.66,4,0.025],["Biotin metabolism",1.0,2,0.07],["Phosphonate and phosphinate metabolism",1.0,2,0.07],["Riboflavin metabolism",1.0,2,0.07],["Sesquiterpenoid and triterpenoid biosynthesis",1.0,2,0.07]];
const W9vsW8=[["Biosynthesis of flavones aglycones IV",0.81,13,0.002],["Biosynthesis of coumarins V",0.645,12,0.003],["Valine, leucine and isoleucine degradation",1.0,3,0.004],["Pyrimidine metabolism",0.63,11,0.005],["D-Amino acid metabolism",0.63,11,0.005],["Lysine biosynthesis",0.72,7,0.006],["Pyruvate metabolism",0.72,7,0.006],["Valine, leucine and isoleucine biosynthesis",0.72,7,0.006],["Vitamin B6 metabolism",0.72,7,0.006],["Tropane, piperidine and pyridine alkaloid biosynthesis",0.59,8,0.008],["Biosynthesis of amino acids",0.47,16,0.01],["Metabolic pathways",0.39,80,0.012],["alpha-Linolenic acid metabolism",0.63,10,0.014],["beta-Alanine metabolism",0.63,10,0.014],["Isoflavonoid biosynthesis",0.63,10,0.014],["Aminoacyl-tRNA biosynthesis",0.55,9,0.016],["Cyanoamino acid metabolism",0.68,6,0.018],["Phosphonate and phosphinate metabolism",1.0,2,0.07],["Histidine metabolism",0.76,5,0.02],["Glycine, serine and threonine metabolism",0.56,7,0.022]];

// panel order (row-major, 4 per row)
const panelTitles=["W2 vs. W1","W3 vs. W1","W4 vs. W1","W5 vs. W1","W6 vs. W1","W7 vs. W1","W8 vs. W1","W9 vs. W1","W3 vs. W2","W4 vs. W2","W5 vs. W2","W6 vs. W2","W7 vs. W2","W8 vs. W2","W9 vs. W2","W4 vs. W3","W5 vs. W3","W6 vs. W3","W7 vs. W3","W8 vs. W3","W9 vs. W3","W5 vs. W4","W6 vs. W4","W7 vs. W4","W8 vs. W4","W9 vs. W4","W6 vs. W5","W7 vs. W5","W8 vs. W5","W9 vs. W5","W7 vs. W6","W8 vs. W6","W9 vs. W6","W8 vs. W7","W9 vs. W7","W9 vs. W8"];
const panelRows=[W2vsW1,W3vsW1,W4vsW1,W5vsW1,W6vsW1,W7vsW1,W8vsW1,W9vsW1,W3vsW2,W4vsW2,W5vsW2,W6vsW2,W7vsW2,W8vsW2,W9vsW2,W4vsW3,W5vsW3,W6vsW3,W7vsW3,W8vsW3,W9vsW3,W5vsW4,W6vsW4,W7vsW4,W8vsW4,W9vsW4,W6vsW5,W7vsW5,W8vsW5,W9vsW5,W7vsW6,W8vsW6,W9vsW6,W8vsW7,W9vsW7,W9vsW8];
const T4=["0.7","0.8","0.9","1.0"], T5=["0.6","0.7","0.8","0.9","1.0"], T6=["0.5","0.6","0.7","0.8","0.9","1.0"], TE=["0.4","0.6","0.8","1.0"], TQ=["0.75","0.80","0.85","0.90","0.95","1.00"];
const panelXTicks=[T4,TQ,T4,["0.8","0.9","1.0"],T4,TQ,T4,["0.8","0.9","1.0"],T4,TE,T5,T5,T5,TE,T6,T5,T6,["0.6","0.8","1.0"],T4,T5,T4,T5,["0.6","0.8","1.0"],TE,TE,TE,T5,T5,T5,T5,TE,TE,T5,TE,["0.6","0.8","1.0"],TE];
const panelCountTicks=[[2,8,14,20,26],[3,7,11,15,19],[3,8,14,19,25],[3,9,15,20,26],[3,8,13,18,23],[7,11,15,19,23],[2,8,14,20,26],[3,9,15,21,27],[4,7,11,15,18],[2,5,8,11,14],[2,7,12,17,22],[2,6,10,14,18],[4,7,10,13,16],[2,5,8,11],[2,5,8,11],[3,7,11,15,19],[2,6,10,14,18],[3,8,14,19,25],[3,7,11,15,19],[3,7,11,15,19],[2,7,12,17,22],[2,7,12,17,22],[4,29,54,79,104],[2,22,42,62,82],[4,18,32,47,62],[2,6,10,14],[3,8,14,19,25],[2,7,12,17,22],[2,7,12,17,22],[2,8,14,20,26],[3,24,45,66,87],[2,25,48,71,94],[3,9,15,21,27],[2,13,24,35,46],[2,7,12,17,22],[2,22,41,61,80]];
const pTicks=["1.00","0.75","0.50","0.25","0.00"];

// ---------- LAYOUT ----------
const plotLR=[[66,154],[66,154],[68,154],[72,161],[66,154],[68,157],[69,158],[70,160],[66,154],[68,157],[68,158],[69,160],[61,153],[68,157],[68,157],[67,160],[65,153],[69,160],[68,158],[67,160],[60,153],[67,154],[65,155],[68,158],[67,154],[68,153],[61,154],[69,158],[60,153],[57,143],[60,154],[71,160],[67,154],[68,140],[57,154],[75,160]];
const rowTop=[1,114,229,343.5,458.5,572,686.5,800,915];
const rowH=[100,104,104,103,103.5,104,103.5,104,104];
const pColors=['#ff1e1e','#ff551e','#f7962a','#d9bc2c','#9ade45','#5fe0a0','#62c8ee','#8a96f2','#b37cf0'];
const FONT='"Liberation Sans", Arial, sans-serif';

const grids=[],xAxes=[],yAxes=[],series=[],graphic=[];
panelRows.forEach((rows,i)=>{
  const r=Math.floor(i/4), c=i%4, x0=c*180;
  const L=x0+plotLR[i][0], R=x0+plotLR[i][1], T=rowTop[r], H=rowH[r];
  grids.push({left:L,top:T,width:R-L,height:H,show:true,borderColor:'#a8a8a8',borderWidth:0.9,backgroundColor:'#fff'});
  const xs=rows.map(d=>d[1]); const mn=Math.min(...xs), mx=Math.max(...xs), pad=(mx-mn)*0.05;
  const lo=mn-pad, hi=mx+pad;
  const dec=panelXTicks[i][0].split('.')[1].length;
  const tv=panelXTicks[i].map(Number).filter(t=>t>=lo-1e-9&&t<=hi+1e-9);
  xAxes.push({type:'value',gridIndex:i,min:lo,max:hi,name:'Rich Factor',nameLocation:'middle',nameGap:5.2,
    nameTextStyle:{fontSize:3.1,color:'#222',fontFamily:FONT},
    axisLine:{show:false},splitLine:{show:false},
    axisTick:{show:true,length:1,lineStyle:{color:'#666',width:0.5},customValues:tv},
    axisLabel:{fontSize:2.8,color:'#555',margin:1.6,fontFamily:FONT,customValues:tv,formatter:v=>Number(v).toFixed(dec)}});
  yAxes.push({type:'category',gridIndex:i,inverse:true,data:rows.map(d=>d[0]),
    axisLine:{show:false},splitLine:{show:false},
    axisTick:{show:true,alignWithLabel:true,length:1,lineStyle:{color:'#666',width:0.5}},
    axisLabel:{interval:0,fontSize:2.9,color:'#4d4d4d',margin:1.6,fontFamily:FONT}});
  const cs=rows.map(d=>d[2]); const cmin=Math.min(...cs), cmax=Math.max(...cs);
  const sz=v=>1.5+4.5*Math.sqrt(Math.max(0,(v-cmin))/Math.max(1,(cmax-cmin)));
  series.push({type:'scatter',xAxisIndex:i,yAxisIndex:i,symbolSize:v=>sz(v[2]),
    data:rows.map((d,k)=>[d[1],k,d[2],d[3]]),itemStyle:{opacity:1},animation:false});
  // title
  graphic.push({type:'text',x:L+3,y:T+7,style:{text:panelTitles[i],fontFamily:'"Liberation Serif","Times New Roman",serif',fontWeight:'bold',fontSize:4.4,fill:'#111',verticalAlign:'middle'}});
  // P-value legend
  graphic.push({type:'text',x:R+5,y:T+16.5,style:{text:'P-value',fontFamily:FONT,fontSize:3,fill:'#222',verticalAlign:'middle'}});
  graphic.push({type:'rect',shape:{x:R+5.5,y:T+20.5,width:4.6,height:26.5},style:{fill:new echarts.graphic.LinearGradient(0,0,0,1,pColors.slice().reverse().map((col,k)=>({offset:k/(pColors.length-1),color:col})))}});
  pTicks.forEach((t,k)=>{
    graphic.push({type:'text',x:R+12,y:T+21+k*6.5,style:{text:t,fontFamily:FONT,fontSize:2.4,fill:'#444',verticalAlign:'middle'}});
  });
  // Count legend
  graphic.push({type:'text',x:R+5,y:T+56.5,style:{text:'Count',fontFamily:FONT,fontSize:3,fill:'#222',verticalAlign:'middle'}});
  panelCountTicks[i].forEach((cv,k)=>{
    const yy=T+62.5+k*5.5;
    graphic.push({type:'circle',shape:{cx:R+8.3,cy:yy,r:0.85*sz(cv)/2},style:{fill:'#000'}});
    graphic.push({type:'text',x:R+12,y:yy,style:{text:String(cv),fontFamily:FONT,fontSize:2.4,fill:'#444',verticalAlign:'middle'}});
  });
});

const chart=echarts.init(document.getElementById('c'),null,{renderer:'svg'});
chart.setOption({
  animation:false,
  textStyle:{fontFamily:FONT},
  grid:grids,xAxis:xAxes,yAxis:yAxes,series:series,
  visualMap:{type:'continuous',show:false,min:0,max:1,dimension:3,seriesIndex:series.map((s,k)=>k),inRange:{color:pColors}},
  graphic:graphic
});
</script></body></html>
